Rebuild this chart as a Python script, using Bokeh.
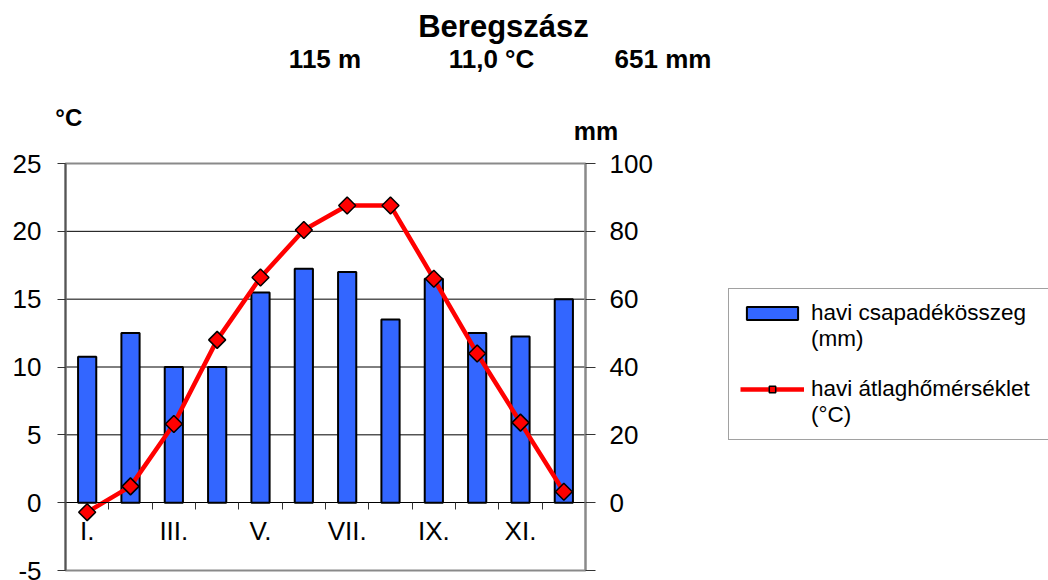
import math
from bokeh.plotting import figure
from bokeh.models import (Range1d, LinearAxis, FixedTicker, Label, Legend, LegendItem,
                          ColumnDataSource)
from bokeh.embed import file_html
from bokeh.resources import INLINE

# ---- data ----
months = ["I.", "II.", "III.", "IV.", "V.", "VI.", "VII.", "VIII.", "IX.", "X.", "XI.", "XII."]
precip_mm = [43, 50, 40, 40, 62, 69, 68, 54, 66, 50, 49, 60]
temp_c = [-0.7, 1.2, 5.8, 12.0, 16.6, 20.1, 21.9, 21.9, 16.5, 11.0, 5.9, 0.8]
temp_ticks = [-5, 0, 5, 10, 15, 20, 25]
mm_ticks = [-20, 0, 20, 40, 60, 80, 100]
station = "Beregszász"
subtitle_parts = ["115 m", "11,0 °C", "651 mm"]
legend_labels = ["havi csapadékösszeg", "(mm)", "havi átlaghőmérséklet", "(°C)"]

FONT = "Liberation Sans"
W, H = 1048, 580
MM_PER_C = mm_ticks[-1] / temp_ticks[-1]

n = len(months)
x_idx = list(range(1, n + 1))
shown_labels = [m if i % 2 == 0 else "" for i, m in enumerate(months)]
boundaries = [i + 0.5 for i in x_idx[:-1]]

# layout of the plotting area inside the canvas (pixels)
AREA_L, AREA_R, AREA_T, AREA_B = 65, 585, 163, 570
px_per_x = (AREA_R - AREA_L) / n
px_per_c = (AREA_B - AREA_T) / (temp_ticks[-1] - temp_ticks[0])
x0 = 0.5 - AREA_L / px_per_x
x1 = 0.5 + (W - AREA_L) / px_per_x
y_top = temp_ticks[-1] + AREA_T / px_per_c
y_bot = temp_ticks[0] - (H - AREA_B) / px_per_c

p = figure(width=W, height=H, min_border=0,
           x_range=Range1d(x0, x1), y_range=Range1d(y_bot, y_top),
           x_axis_location=None, y_axis_location=None,
           output_backend="svg", toolbar_location=None, tools="")
p.title.visible = False
p.background_fill_color = "white"
p.border_fill_color = "white"
p.outline_line_color = None
p.xgrid.visible = False
p.ygrid.visible = False

p.extra_y_ranges = {"mm": Range1d(y_bot * MM_PER_C, y_top * MM_PER_C)}

# gridlines inside the plot area
grid_y = temp_ticks[2:-1]
p.segment(x0=[0.5] * len(grid_y), x1=[n + 0.5] * len(grid_y), y0=grid_y, y1=grid_y,
          line_color="black", line_width=1)
# plot area border
p.quad(left=[0.5], right=[n + 0.5], bottom=[temp_ticks[0]], top=[temp_ticks[-1]],
       fill_color=None, line_color="#8a8a8a", line_width=2)

# left axis
yl = LinearAxis(ticker=FixedTicker(ticks=temp_ticks), fixed_location=0.5,
                bounds=(temp_ticks[0], temp_ticks[-1]))
yl.major_label_overrides = {t: str(t) for t in temp_ticks}
yl.axis_line_color = "#555555"
yl.axis_line_width = 2
yl.major_tick_out = 8
yl.major_tick_in = 0
yl.major_tick_line_color = "#333333"
yl.minor_tick_line_color = None
yl.major_label_text_font = FONT
yl.major_label_text_font_size = "26px"
yl.major_label_text_color = "black"
yl.major_label_standoff = 16
p.add_layout(yl, "left")

# right axis
yr = LinearAxis(y_range_name="mm", ticker=FixedTicker(ticks=mm_ticks), fixed_location=n + 0.5,
                bounds=(mm_ticks[0], mm_ticks[-1]))
yr.major_label_overrides = {t: ("" if t < 0 else str(t)) for t in mm_ticks}
yr.axis_line_color = "#8a8a8a"
yr.axis_line_width = 2
yr.major_tick_out = 10
yr.major_tick_in = 0
yr.major_tick_line_color = "#333333"
yr.minor_tick_line_color = None
yr.major_label_text_font = FONT
yr.major_label_text_font_size = "26px"
yr.major_label_text_color = "black"
yr.major_label_standoff = 14
p.add_layout(yr, "right")

# bars
src = ColumnDataSource(dict(x=x_idx, mm=precip_mm, t=temp_c))
bars = p.vbar(x="x", top="mm", bottom=0, width=0.42, source=src, y_range_name="mm",
              fill_color="#3366FF", line_color="black", line_width=2)

# temperature line
line = p.line(x="x", y="t", source=src, line_color="#FF0000", line_width=4.5)
marks = p.scatter(x="x", y="t", source=src, marker="square", angle=math.pi / 4, size=12,
                  fill_color="#FF0000", line_color="black", line_width=1.5)

# category axis crossing at 0 °C: tick marks between months
xt = LinearAxis(ticker=FixedTicker(ticks=boundaries), fixed_location=0, bounds=(0.5, n + 0.5))
xt.major_label_overrides = {b: "" for b in boundaries}
xt.axis_line_color = "black"
xt.axis_line_width = 1
xt.major_tick_out = 7
xt.major_tick_in = 0
xt.major_tick_line_color = "#333333"
xt.minor_tick_line_color = None
p.add_layout(xt, "below")
# month labels
xl = LinearAxis(ticker=FixedTicker(ticks=x_idx), fixed_location=0, bounds=(0.5, n + 0.5))
xl.major_label_overrides = {i: lab for i, lab in zip(x_idx, shown_labels)}
xl.axis_line_color = None
xl.major_tick_line_color = None
xl.major_tick_out = 0
xl.major_tick_in = 0
xl.minor_tick_line_color = None
xl.major_label_text_font = FONT
xl.major_label_text_font_size = "26px"
xl.major_label_text_color = "black"
xl.major_label_standoff = 13
p.add_layout(xl, "below")

# titles (screen units relative to the canvas bottom-left)
def lab(x, y_page, text, size, bold=True):
    p.add_layout(Label(x=x, y=H - y_page, x_units="screen", y_units="screen", text=text,
                       text_font=FONT, text_font_size=size,
                       text_font_style="bold" if bold else "normal",
                       text_align="center", text_baseline="middle", text_color="black"))

lab(503, 25.5, station, "31px")
for xs, t in zip([324.5, 491, 662.5], subtitle_parts):
    lab(xs, 58.3, t, "26px")
lab(68.3, 117, "°C", "24px")
lab(595.5, 130.7, "mm", "25px")

# legend (blank renderer for continuation lines)
blank = p.scatter(x=[], y=[], size=1, fill_alpha=0, line_alpha=0)
legend = Legend(items=[
    LegendItem(label=legend_labels[0], renderers=[bars]),
    LegendItem(label=legend_labels[1], renderers=[blank]),
    LegendItem(label=" ", renderers=[blank]),
    LegendItem(label=legend_labels[2], renderers=[line, marks]),
    LegendItem(label=legend_labels[3], renderers=[blank]),
], location=(728, H - 440))
legend.glyph_width = 64
legend.glyph_height = 16
legend.label_height = 24
legend.label_width = 226
legend.spacing = 0
legend.padding = 11
legend.margin = 0
legend.label_standoff = 7
legend.label_text_font = FONT
legend.label_text_font_size = "22.5px"
legend.label_text_color = "black"
legend.border_line_color = "#444444"
legend.border_line_width = 1
legend.background_fill_color = "white"
legend.background_fill_alpha = 1
p.add_layout(legend, "center")

open("out.html", "w").write(file_html(p, INLINE))
